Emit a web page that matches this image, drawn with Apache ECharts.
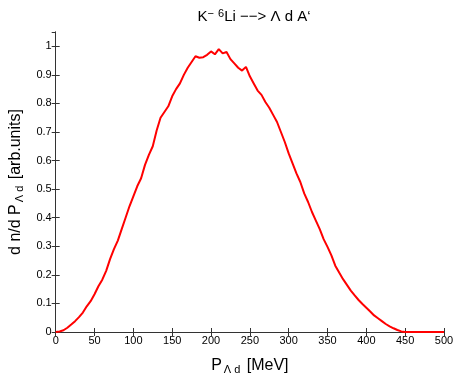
<!DOCTYPE html>
<html>
<head>
<meta charset="utf-8">
<script src="https://cdn.jsdelivr.net/npm/echarts@6/dist/echarts.min.js"></script>
<style>
  html, body { margin: 0; padding: 0; background: #fff; }
  #chart { width: 458px; height: 380px; }
</style>
</head>
<body>
<div id="chart"></div>
<script>
  // momentum P (MeV), step 5
  const momentum = [];
  for (let p = 0; p <= 500; p += 5) momentum.push(p);

  // dn/dP
  const yieldValues = [
    0, 0.002, 0.006, 0.015, 0.026, 0.038, 0.052, 0.068, 0.09, 0.108,
    0.132, 0.16, 0.183, 0.214, 0.255, 0.29, 0.32, 0.36, 0.4, 0.44,
    0.475, 0.51, 0.538, 0.585, 0.62, 0.65, 0.705, 0.75, 0.77, 0.79,
    0.825, 0.85, 0.87, 0.9, 0.925, 0.945, 0.965, 0.96, 0.962, 0.97,
    0.982, 0.972, 0.99, 0.975, 0.98, 0.955, 0.94, 0.925, 0.915, 0.928,
    0.895, 0.87, 0.845, 0.83, 0.805, 0.785, 0.76, 0.735, 0.7, 0.665,
    0.625, 0.59, 0.555, 0.525, 0.485, 0.455, 0.42, 0.39, 0.36, 0.325,
    0.298, 0.268, 0.232, 0.208, 0.185, 0.165, 0.145, 0.128, 0.112, 0.098,
    0.085, 0.072, 0.058, 0.048, 0.038, 0.028, 0.02, 0.013, 0.007, 0.002,
    0, 0, 0, 0, 0, 0, 0, 0, 0, 0, 0
  ];

  const xTicks = { min: 0, max: 500, interval: 50 };
  const yTicks = { min: 0, max: 1.05, interval: 0.1 };

  const font = 'Liberation Sans, Arial, sans-serif';
  const axisCol = '#333';

  const chart = echarts.init(document.getElementById('chart'));
  const pts = momentum.map((p, i) => [p, yieldValues[i]]);

  chart.setOption({
    backgroundColor: '#fff',
    animation: false,
    title: {
      text: 'K{sup|−} {sup|6}Li −−> Λ d A‘',
      left: 249,
      textAlign: 'center',
      top: 3,
      textStyle: {
        fontFamily: font, fontSize: 15, fontWeight: 'normal', color: '#000',
        rich: { sup: { fontFamily: font, fontSize: 11, verticalAlign: 'top', padding: [0, 0, 7, 0], color: '#000' } }
      }
    },
    grid: { left: 54, right: 14, top: 32, bottom: 42 },
    xAxis: [
      {
        type: 'value', min: xTicks.min, max: xTicks.max, interval: xTicks.interval,
        axisLine: { lineStyle: { color: axisCol, width: 1 } },
        axisTick: { inside: true, length: 4, lineStyle: { color: axisCol } },
        axisLabel: { fontFamily: font, fontSize: 11, color: '#000', margin: 3 },
        splitLine: { show: false },
        name: 'P{sub|Λ d} [MeV]',
        nameLocation: 'middle', nameGap: 24,
        nameTextStyle: {
          fontFamily: font, fontSize: 16, color: '#000',
          rich: { sub: { fontFamily: font, fontSize: 11, verticalAlign: 'bottom', padding: [8, 2, 0, 2], color: '#000' } }
        }
      },
      {
        type: 'value', position: 'top', min: xTicks.min, max: xTicks.max, interval: xTicks.interval,
        axisLine: { lineStyle: { color: axisCol, width: 1 } },
        axisTick: { inside: true, length: 4, lineStyle: { color: axisCol } },
        axisLabel: { show: false },
        splitLine: { show: false }
      }
    ],
    yAxis: [
      {
        type: 'value', min: yTicks.min, max: yTicks.max, interval: yTicks.interval,
        axisLine: { show: true, lineStyle: { color: axisCol, width: 1 } },
        axisTick: { show: true, inside: true, length: 4, lineStyle: { color: axisCol } },
        axisLabel: { fontFamily: font, fontSize: 11, color: '#000', margin: 4, showMaxLabel: false },
        splitLine: { show: false },
        name: 'd n/d P{sub|Λ d} [arb.units]',
        nameLocation: 'middle', nameGap: 30, nameRotate: 90,
        nameTextStyle: {
          fontFamily: font, fontSize: 16, color: '#000',
          rich: { sub: { fontFamily: font, fontSize: 11, verticalAlign: 'bottom', padding: [8, 2, 0, 2], color: '#000' } }
        }
      },
      {
        type: 'value', position: 'right', min: yTicks.min, max: yTicks.max, interval: yTicks.interval,
        axisLine: { show: true, lineStyle: { color: axisCol, width: 1 } },
        axisTick: { show: true, inside: true, length: 4, lineStyle: { color: axisCol } },
        axisLabel: { show: false },
        splitLine: { show: false }
      }
    ],
    series: [{
      type: 'line',
      data: pts,
      showSymbol: false,
      smooth: false,
      lineStyle: { color: '#ff0000', width: 2 },
      itemStyle: { color: '#ff0000' }
    }]
  });
</script>
</body>
</html>
